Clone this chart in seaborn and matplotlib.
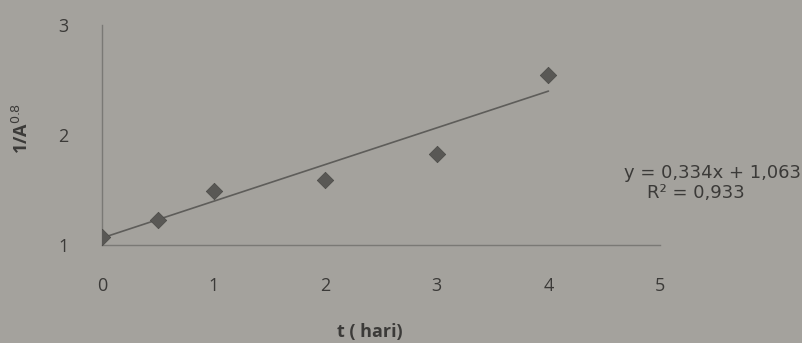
import numpy as np
import pandas as pd
import matplotlib
matplotlib.use("Agg")
import matplotlib.pyplot as plt
import seaborn as sns

# data
t_hari = [0, 0.5, 1, 2, 3, 4]
inv_a = [1.07, 1.23, 1.49, 1.59, 1.83, 2.55]
slope = 0.334
intercept = 1.063
x_ticks = [0, 1, 2, 3, 4, 5]
y_ticks = [1, 2, 3]

df = pd.DataFrame({"t": t_hari, "y": inv_a})
trend = pd.DataFrame({"t": [0, 4]})
trend["y"] = intercept + slope * trend["t"]

sns.set_style("white")
plt.rcParams["font.family"] = ["Open Sans", "DejaVu Sans"]

bg = "#a4a29d"
ink = "#3b3a38"

fig = plt.figure(figsize=(8.03, 3.43), dpi=100, facecolor=bg)
ax = fig.add_axes([0.127, 0.286, 0.695, 0.641], facecolor=bg)

sns.lineplot(data=trend, x="t", y="y", ax=ax, color="#5e5d5a", lw=1.2)
sns.scatterplot(data=df, x="t", y="y", ax=ax, marker="D", s=70,
                color="#595855", edgecolor="#4a4946", linewidth=0.5, zorder=3)

ax.set_xlim(0, 5)
ax.set_ylim(1, 3)
ax.set_xticks(x_ticks)
ax.set_yticks(y_ticks)
ax.tick_params(axis="x", length=3, color="#7a7975", pad=20, labelsize=13, labelcolor=ink)
ax.tick_params(axis="y", length=0, pad=24, labelsize=13, labelcolor=ink)

for s in ["top", "right"]:
    ax.spines[s].set_visible(False)
for s in ["left", "bottom"]:
    ax.spines[s].set_color("#7a7975")
    ax.spines[s].set_linewidth(1.0)

ax.set_xlabel("t ( hari)", fontweight="bold", fontsize=13, color=ink)
ax.set_ylabel("1/A$^{0.8}$", fontweight="bold", fontsize=13, color=ink)
ax.yaxis.set_label_coords(-0.125, 0.53)
ax.xaxis.set_label_coords(0.48, -0.355)

eq_font = ["DejaVu Sans"]
fig.text(0.997, 0.496, "y = 0,334x + 1,063", ha="right", va="center",
         fontsize=13, color=ink, family=eq_font)
fig.text(0.866, 0.437, "R² = 0,933", ha="center", va="center",
         fontsize=13, color=ink, family=eq_font)

fig.savefig("out.png", dpi=100, facecolor=bg)
